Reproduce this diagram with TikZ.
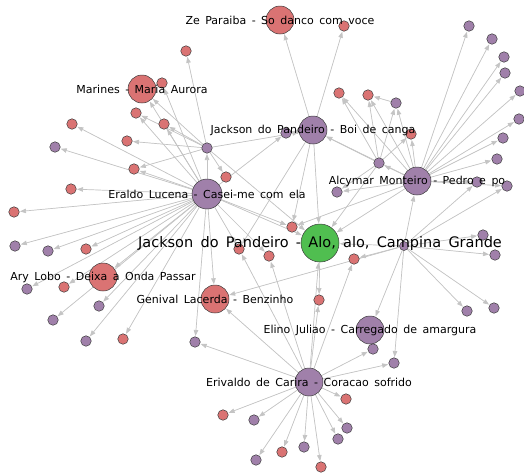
\documentclass[tikz,border=0pt]{standalone}
\usepackage{fontspec}
\setmainfont{DejaVu Sans}
\usetikzlibrary{arrows.meta}
\pgfdeclarelayer{bg}
\pgfsetlayers{bg,main}
\definecolor{nred}{RGB}{218,115,115}
\definecolor{npur}{RGB}{160,128,170}
\definecolor{ngreen}{RGB}{80,190,80}
\definecolor{nstroke}{RGB}{60,60,60}
\definecolor{edgec}{RGB}{196,196,196}
\tikzset{
  sr/.style={circle,inner sep=0pt,minimum size=10.5pt,fill=nred,draw=nstroke,line width=0.5pt},
  sp/.style={circle,inner sep=0pt,minimum size=10.5pt,fill=npur,draw=nstroke,line width=0.5pt},
  br/.style={sr,minimum size=28pt},
  bp/.style={sp,minimum size=28pt},
  edge/.style={draw=edgec,line width=0.7pt,-{Triangle[length=6pt,width=4.5pt]},fill=edgec,shorten >=0.5pt},
  lbl/.style={inner sep=0pt,font={\fontsize{11}{12}\selectfont\spaceskip=0.5em\relax}},
  mainlbl/.style={inner sep=0pt,font={\fontsize{14.5}{16}\selectfont\spaceskip=0.5em\relax}}
}
\begin{document}
\begin{tikzpicture}[x=1pt,y=-1pt]
\useasboundingbox (0,0) rectangle (524,472);
% big nodes
\node[sp,minimum size=38pt,fill=ngreen] (G) at (320,243) {};
\node[bp,minimum size=30pt] (Er) at (207,194) {};
\node[bp] (Bo) at (313,130) {};
\node[bp] (Al) at (417,181) {};
\node[br] (Ze) at (280,20) {};
\node[br] (Ma) at (142,89) {};
\node[br] (Ar) at (103,277) {};
\node[br] (Ge) at (215,299) {};
\node[bp] (El) at (370,330) {};
\node[bp] (Ev) at (309,382) {};
% small nodes
\node[sr] (a1) at (186,51) {};
\node[sr] (a2) at (162,83) {};
\node[sr] (a3) at (136,113) {};
\node[sr] (a4) at (164,124) {};
\node[sr] (a5) at (72,124) {};
\node[sr] (a6) at (127,141) {};
\node[sp] (a7) at (55,147) {};
\node[sp] (h1) at (207,148) {};
\node[sr] (a8) at (134,169) {};
\node[sr] (a9) at (226,177) {};
\node[sr] (a10) at (71,189) {};
\node[sr] (a11) at (14,212) {};
\node[sr] (b1) at (344,26) {};
\node[sr] (b2) at (339,93) {};
\node[sr] (b3) at (368,95) {};
\node[sp] (b4) at (396,103) {};
\node[sp] (b5) at (286,133) {};
\node[sr] (b6) at (411,134) {};
\node[sp] (h2) at (379,163) {};
\node[sp] (b7) at (337,192) {};
\node[sr] (c1) at (292,227) {};
\node[sp] (r1) at (469,26) {};
\node[sp] (r2) at (492,39) {};
\node[sp] (r3) at (504,57) {};
\node[sp] (r4) at (505,73) {};
\node[sp] (r5) at (520,91) {};
\node[sp] (r6) at (519,119) {};
\node[sp] (r7) at (503,138) {};
\node[sp] (r8) at (497,159) {};
\node[sp] (r9) at (477,182) {};
\node[sp] (r10) at (507,186) {};
\node[sp,minimum size=9pt] (h3) at (404,246) {};
\node[sp] (d1) at (483,235) {};
\node[sp] (d2) at (495,255) {};
\node[sp] (d3) at (467,311) {};
\node[sp] (d4) at (494,308) {};
\node[sr] (c2) at (239,249) {};
\node[sr] (c3) at (269,256) {};
\node[sr] (c4) at (354,259) {};
\node[sr] (c5) at (319,300) {};
\node[sp] (e1) at (373,349) {};
\node[sp] (e2) at (394,363) {};
\node[sr] (f1) at (346,399) {};
\node[sr] (f2) at (223,415) {};
\node[sp] (f3) at (254,420) {};
\node[sp] (f4) at (347,428) {};
\node[sp] (f5) at (338,439) {};
\node[sp] (f6) at (304,447) {};
\node[sr] (f7) at (282,452) {};
\node[sp] (f8) at (256,460) {};
\node[sr] (f9) at (321,467) {};
\node[sp] (l1) at (15,246) {};
\node[sp] (l2) at (48,251) {};
\node[sr] (l3) at (86,249) {};
\node[sp] (l4) at (27,289) {};
\node[sr] (l5) at (64,287) {};
\node[sp] (l6) at (99,306) {};
\node[sp] (l7) at (53,320) {};
\node[sp] (l8) at (86,341) {};
\node[sr] (l9) at (123,339) {};
\node[sp] (l10) at (195,342) {};
% edges
\begin{pgfonlayer}{bg}
\foreach \t in {h1,Ma,a2,a3,a4,a5,a7,a8,a10,a11,l1,l2,l3,l4,l5,Ar,l6,l7,l8,l9,l10,Ge,c2,c3,G,b5,c1}
  \draw[edge] (Er) -- (\t);
\foreach \t in {a1,Ma,a3,a4,a6,a8,a9,Bo,G}
  \draw[edge] (h1) -- (\t);
\foreach \t in {Ze,b1,b5,G,c1,c2}
  \draw[edge] (Bo) -- (\t);
\foreach \t in {b2,b3,b4,b6,Bo,G,b7}
  \draw[edge] (h2) -- (\t);
\draw[edge] (b4) -- (b3);
\foreach \t in {r1,r2,r3,r4,r5,r6,r7,r8,r9,r10,b3,b4,b6,b2,Bo,b7,G,c1,h2}
  \draw[edge] (Al) -- (\t);
\foreach \t in {Al,d1,d2,d3,d4,r9,r10,El,e2,c4,Ge,G}
  \draw[edge] (h3) -- (\t);
\foreach \t in {f1,f2,f3,f4,f5,f6,f7,f8,f9,e1,e2,Ge,l10,G,c5,c4,c3,c2}
  \draw[edge] (Ev) -- (\t);
\draw[edge] (G) -- (c5);
\end{pgfonlayer}
% labels
\node[lbl] (tZe) at (Ze) {Ze Paraiba - So danco com voce};
\node[lbl] (tMa) at (Ma) {Marines - Maria Aurora};
\node[lbl] (tBo) at (Bo) {Jackson do Pandeiro - Boi de canga};
\node[lbl] (tAl) at (Al) {Alcymar Monteiro - Pedro e po};
\node[lbl] (tEr) at (Er) {Eraldo Lucena - Casei-me com ela};
\node[mainlbl] (tG) at (G) {Jackson do Pandeiro - Alo, alo, Campina Grande};
\node[lbl] (tAr) at (Ar) {Ary Lobo - Deixa a Onda Passar};
\node[lbl] (tGe) at (Ge) {Genival Lacerda - Benzinho};
\node[lbl] (tEl) at (El) {Elino Juliao - Carregado de amargura};
\node[lbl] (tEv) at (Ev) {Erivaldo de Carira - Coracao sofrido};
\end{tikzpicture}
\end{document}
